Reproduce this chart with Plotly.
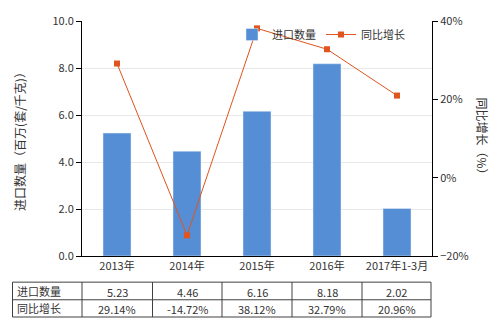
import plotly.graph_objects as go

categories = ["2013年", "2014年", "2015年", "2016年", "2017年1-3月"]
qty = [5.23, 4.46, 6.16, 8.18, 2.02]
growth = [29.14, -14.72, 38.12, 32.79, 20.96]
qty_labels = ["5.23", "4.46", "6.16", "8.18", "2.02"]
growth_labels = ["29.14%", "-14.72%", "38.12%", "32.79%", "20.96%"]
row_names = ["进口数量", "同比增长"]

FONT = "Microsoft YaHei, Noto Sans CJK SC, sans-serif"
TXT = "#333333"

fig = go.Figure()
fig.add_trace(go.Bar(x=categories, y=qty, name="进口数量", marker_color="#558ED5",
                     width=0.4, yaxis="y"))
fig.add_trace(go.Scatter(x=categories, y=growth, name="同比增长", yaxis="y2",
                         mode="lines+markers",
                         line=dict(color="#E0541E", width=1),
                         marker=dict(symbol="square", size=6, color="#E0541E")))

W, H = 503, 325
L, R, T, B = 82, 71, 16, 69
pw, ph = W - L - R, H - T - B

def px(x):
    return (x - L) / pw

def py(y):
    return (H - B - y) / ph

shapes = []
ann = []
# table
xs = [12.5, 82, 152.5, 222, 292, 362, 431]
ys = [282.7, 300.7, 318.3]
for y in ys:
    shapes.append(dict(type="line", xref="paper", yref="paper", x0=px(xs[0]), x1=px(xs[-1]),
                       y0=py(y), y1=py(y), line=dict(color="#404040", width=1)))
for x in xs:
    shapes.append(dict(type="line", xref="paper", yref="paper", x0=px(x), x1=px(x),
                       y0=py(ys[0]), y1=py(ys[-1]), line=dict(color="#404040", width=1)))
for r, (name, labels) in enumerate(zip(row_names, [qty_labels, growth_labels])):
    yc = (ys[r] + ys[r + 1]) / 2
    ann.append(dict(xref="paper", yref="paper", x=px(15), y=py(yc), text=name, showarrow=False,
                    xanchor="left", yanchor="middle", font=dict(size=11, color=TXT, family=FONT)))
    for i, lab in enumerate(labels):
        xc = (xs[i + 1] + xs[i + 2]) / 2
        ann.append(dict(xref="paper", yref="paper", x=px(xc), y=py(yc + 1), text=lab, showarrow=False,
                        xanchor="center", yanchor="middle", font=dict(size=11, color=TXT, family=FONT)))

# right axis title (top-to-bottom)
ann.append(dict(xref="paper", yref="paper", x=px(482), y=py(136), text="同比增长（%）", showarrow=False,
                xanchor="center", yanchor="middle",
                textangle=90, font=dict(size=12, color=TXT, family=FONT)))

fig.update_layout(
    width=W, height=H, margin=dict(l=L, r=R, t=T, b=B),
    paper_bgcolor="white", plot_bgcolor="white",
    font=dict(family=FONT, size=11, color=TXT),
    showlegend=True,
    legend=dict(orientation="h", x=px(232), y=py(15), xanchor="left", yanchor="top",
                bgcolor="rgba(0,0,0,0)", font=dict(size=11, color=TXT, family=FONT),
                itemwidth=30, tracegroupgap=0),
    xaxis=dict(type="category", showline=True, linecolor="#000000", linewidth=1,
               ticks="", tickfont=dict(size=11, color=TXT), showgrid=False),
    yaxis=dict(range=[0, 10], dtick=2, tickformat=".1f", showline=True, linecolor="#000000",
               ticks="outside", ticklen=5, tickcolor="#000000", gridcolor="#E8E8E8",
               zeroline=False, tickfont=dict(size=11, color=TXT),
               title=dict(text="进口数量（百万(套/千克)）", font=dict(size=12, color=TXT), standoff=24)),
    yaxis2=dict(range=[-20, 40], dtick=20, ticksuffix="%", overlaying="y", side="right",
                showline=True, linecolor="#000000", ticks="outside", ticklen=5, tickcolor="#000000",
                showgrid=False, zeroline=False, tickfont=dict(size=11, color=TXT)),
    shapes=shapes, annotations=ann, bargap=0.6,
)

fig.write_html("out.html")
